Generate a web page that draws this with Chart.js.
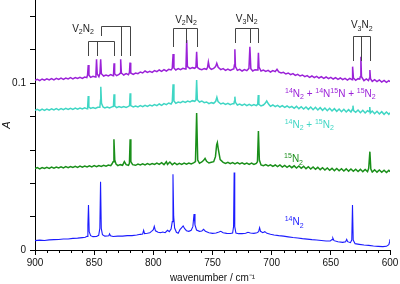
<!DOCTYPE html>
<html><head><meta charset="utf-8">
<script src="https://cdn.jsdelivr.net/npm/chart.js@4/dist/chart.umd.min.js"></script>
<style>html,body{margin:0;padding:0;background:#fff;overflow:hidden}</style>
</head><body>
<canvas id="c" width="400" height="284"></canvas>
<script>
// ---- data: [wavenumber (cm-1), absorbance A] ----
const n14N2 = [[900,0.0056],[896,0.0059],[892,0.0057],[888,0.0061],[884,0.0062],[880,0.0063],[876,0.0066],[872,0.0066],[868,0.0070],[864,0.0071],[860,0.0074],[857.5,0.0076],[856,0.0082],[855.3,0.0150],[854.8,0.0270],[854.2,0.0110],[853,0.0086],[851,0.0080],[848,0.0081],[846.2,0.0088],[845.2,0.0130],[844.6,0.0410],[844,0.0130],[843,0.0092],[841,0.0083],[839,0.0084],[837.6,0.0086],[837,0.0097],[836.2,0.0085],[834,0.0081],[830,0.0083],[826,0.0083],[822,0.0086],[818,0.0086],[814,0.0090],[811,0.0094],[809,0.0096],[808.2,0.0118],[807.4,0.0098],[805,0.0100],[803,0.0104],[801.5,0.0112],[800,0.0122],[799.2,0.0142],[798.2,0.0115],[796,0.0106],[794,0.0104],[792,0.0108],[790,0.0104],[788,0.0118],[786.5,0.0110],[785,0.0126],[784,0.0170],[783.4,0.0455],[782.8,0.0200],[782,0.0132],[780.5,0.0106],[779,0.0100],[777.5,0.0122],[776,0.0134],[774.8,0.0144],[773.5,0.0128],[772,0.0116],[770,0.0112],[768,0.0118],[766.6,0.0140],[765.6,0.0216],[764.8,0.0150],[763.5,0.0120],[761,0.0112],[759,0.0114],[757.5,0.0124],[756,0.0112],[753,0.0104],[750,0.0100],[747,0.0102],[744.5,0.0108],[743,0.0112],[741,0.0104],[738,0.0100],[735,0.0099],[733,0.0102],[732.2,0.0140],[731.7,0.0465],[731.2,0.0140],[730.2,0.0102],[728,0.0098],[725,0.0098],[722,0.0100],[720,0.0106],[718,0.0102],[715,0.0100],[712.5,0.0104],[711,0.0110],[710.2,0.0134],[709.4,0.0112],[707.5,0.0104],[705.8,0.0110],[704,0.0100],[701,0.0094],[698,0.0090],[694,0.0086],[690,0.0083],[686,0.0079],[682,0.0075],[678,0.0072],[674,0.0068],[670,0.0065],[666,0.0062],[662,0.0060],[658,0.0057],[654,0.0054],[650.5,0.0054],[649,0.0062],[648.3,0.0072],[647.3,0.0056],[644,0.0049],[640,0.0046],[637.5,0.0050],[636.6,0.0064],[635.8,0.0050],[633.5,0.0044],[632.3,0.0060],[631.7,0.0270],[631.1,0.0060],[629.5,0.0038],[626,0.0034],[622,0.0030],[618,0.0028],[614,0.0024],[610,0.0022],[606,0.0020],[603,0.0022],[601,0.0032],[600.3,0.0050],[600,0.0064]];

const n15N2 = [[900,0.0488],[898,0.0494],[896,0.0487],[894,0.0495],[892,0.0489],[890,0.0496],[888,0.0490],[886,0.0497],[884,0.0491],[882,0.0498],[880,0.0492],[878,0.0499],[876,0.0493],[874,0.0500],[872,0.0494],[870,0.0501],[868,0.0495],[866,0.0502],[864,0.0496],[862,0.0503],[860,0.0497],[858,0.0504],[856,0.0498],[854,0.0505],[852,0.0499],[850,0.0506],[848,0.0500],[846,0.0507],[844,0.0502],[842,0.0508],[840,0.0503],[838,0.0510],[836,0.0506],[835,0.0516],[834,0.0530],[833.3,0.0664],[832.6,0.0540],[831.5,0.0515],[830,0.0506],[828,0.0512],[826,0.0508],[824.5,0.0530],[823,0.0512],[821,0.0508],[820.2,0.0520],[819.6,0.0664],[819,0.0530],[817.5,0.0512],[815,0.0508],[813,0.0515],[811,0.0510],[809,0.0517],[807,0.0511],[805,0.0518],[803,0.0512],[801,0.0519],[799,0.0513],[797,0.0522],[795,0.0514],[793,0.0524],[791,0.0512],[789,0.0530],[788,0.0514],[786,0.0528],[784,0.0512],[782,0.0522],[780,0.0512],[778,0.0520],[776,0.0514],[774,0.0521],[772,0.0515],[770,0.0522],[768,0.0516],[766,0.0523],[764.4,0.0530],[763.4,0.0822],[762.5,0.0540],[761,0.0520],[759,0.0528],[757.5,0.0538],[756.3,0.0550],[755,0.0532],[753,0.0522],[751,0.0526],[749,0.0530],[747.5,0.0560],[746.5,0.0630],[745.9,0.0644],[745,0.0600],[743.5,0.0542],[741,0.0526],[739,0.0520],[737,0.0526],[735,0.0518],[733,0.0525],[731,0.0517],[729,0.0524],[727,0.0516],[725,0.0523],[723,0.0515],[721,0.0522],[719,0.0514],[717,0.0521],[715,0.0513],[713,0.0520],[712,0.0530],[711.2,0.0714],[710.4,0.0540],[709,0.0510],[707,0.0506],[705,0.0512],[703,0.0504],[701,0.0511],[699,0.0502],[697,0.0510],[695,0.0500],[693,0.0510],[691,0.0498],[689,0.0508],[687,0.0496],[685,0.0506],[683,0.0494],[681,0.0505],[679,0.0492],[677,0.0504],[675,0.0490],[673,0.0502],[671,0.0488],[669,0.0500],[667,0.0486],[665,0.0498],[663,0.0484],[661,0.0496],[659,0.0482],[657,0.0494],[655,0.0480],[653,0.0492],[651,0.0478],[649,0.0490],[647,0.0476],[645,0.0489],[643,0.0475],[641,0.0488],[639,0.0474],[637,0.0487],[635,0.0473],[633,0.0486],[631,0.0472],[629,0.0485],[627,0.0471],[625,0.0484],[623,0.0470],[621,0.0483],[619,0.0470],[618,0.0490],[617,0.0590],[616.2,0.0486],[615,0.0468],[613,0.0481],[611,0.0467],[609,0.0480],[607,0.0466],[605,0.0479],[603,0.0465],[601,0.0478],[600,0.0470]];

const nMix2 = [[900,0.0838],[898,0.0844],[896,0.0836],[894,0.0845],[892,0.0838],[890,0.0846],[888,0.0839],[886,0.0847],[884,0.0840],[882,0.0848],[880,0.0841],[878,0.0849],[876,0.0842],[874,0.0850],[872,0.0843],[870,0.0850],[868,0.0844],[866,0.0851],[864,0.0845],[862,0.0852],[860,0.0846],[858,0.0853],[856,0.0847],[855.5,0.0860],[855,0.0924],[854.5,0.0858],[853,0.0850],[851,0.0855],[849,0.0849],[847,0.0856],[845.2,0.0856],[844.6,0.0900],[844.4,0.0980],[843.8,0.0880],[842.5,0.0858],[841,0.0852],[839,0.0858],[837,0.0852],[835,0.0859],[833.7,0.0862],[833.2,0.0934],[832.6,0.0864],[831,0.0854],[829,0.0860],[827,0.0855],[825,0.0861],[823,0.0856],[821,0.0862],[820.1,0.0866],[819.6,0.0940],[819.1,0.0866],[817,0.0858],[815,0.0864],[813,0.0859],[811,0.0866],[809,0.0860],[807,0.0868],[805,0.0862],[803,0.0870],[801,0.0864],[799,0.0872],[797,0.0866],[795,0.0876],[793,0.0868],[791,0.0878],[789,0.0872],[787,0.0882],[785,0.0876],[784,0.0888],[783.3,0.0994],[782.6,0.0894],[781,0.0880],[779,0.0888],[777,0.0884],[775,0.0892],[773,0.0886],[771,0.0894],[769,0.0888],[767,0.0896],[765,0.0892],[764,0.0900],[763.4,0.1020],[762.8,0.0902],[761,0.0888],[759,0.0894],[757,0.0884],[755,0.0888],[753,0.0878],[751,0.0884],[749,0.0880],[747.3,0.0892],[746.3,0.0916],[745.3,0.0890],[743,0.0876],[741,0.0882],[739,0.0874],[737,0.0880],[735,0.0872],[733,0.0878],[731.9,0.0878],[731.5,0.0892],[731.1,0.0920],[730.6,0.0886],[729,0.0870],[727,0.0876],[725,0.0868],[723,0.0875],[721,0.0866],[719,0.0874],[717,0.0866],[715,0.0872],[713,0.0866],[711.8,0.0874],[711.3,0.0930],[710.8,0.0874],[709,0.0864],[707,0.0870],[705.5,0.0880],[704.2,0.0894],[702.5,0.0874],[701,0.0862],[699,0.0870],[697,0.0860],[695,0.0868],[693,0.0858],[691,0.0866],[689,0.0856],[687,0.0864],[685,0.0854],[683,0.0862],[681,0.0850],[679,0.0862],[677,0.0848],[675,0.0860],[673,0.0846],[671,0.0858],[669,0.0844],[667,0.0858],[665,0.0842],[663,0.0856],[661,0.0840],[659,0.0854],[657,0.0838],[655,0.0852],[653,0.0836],[651,0.0850],[649,0.0834],[647,0.0848],[645,0.0832],[643,0.0846],[641,0.0830],[639,0.0844],[637,0.0828],[635,0.0842],[633,0.0828],[631.8,0.0844],[631.3,0.0866],[630.8,0.0836],[629,0.0826],[627,0.0840],[625,0.0824],[623,0.0838],[621,0.0822],[619,0.0836],[617.6,0.0830],[617.1,0.0858],[616.6,0.0822],[615,0.0834],[613,0.0818],[611,0.0832],[609,0.0816],[607,0.0830],[605,0.0814],[603,0.0828],[601,0.0814],[600,0.0824]];

const nMix3 = [[900,0.1018],[898,0.1024],[896,0.1016],[894,0.1026],[892,0.1019],[890,0.1027],[888,0.1020],[886,0.1029],[884,0.1021],[882,0.1030],[880,0.1023],[878,0.1031],[876,0.1024],[874,0.1032],[872,0.1026],[870,0.1034],[868,0.1027],[866,0.1035],[864,0.1029],[862,0.1036],[860,0.1030],[858,0.1038],[856.2,0.1034],[855.6,0.1050],[855,0.1110],[854.4,0.1048],[853,0.1036],[851,0.1042],[849,0.1038],[848.5,0.1060],[848,0.1144],[847.4,0.1056],[846,0.1040],[845.1,0.1060],[844.5,0.1144],[843.9,0.1058],[842,0.1044],[840,0.1050],[838,0.1044],[836,0.1052],[834,0.1046],[833.6,0.1060],[833.2,0.1120],[832.7,0.1058],[831,0.1046],[829,0.1054],[828.1,0.1060],[827.6,0.1144],[827.0,0.1062],[825,0.1050],[823,0.1058],[821,0.1052],[820.2,0.1064],[819.7,0.1124],[819.1,0.1062],[817,0.1054],[815,0.1062],[813,0.1058],[811,0.1068],[809,0.1062],[807,0.1074],[805,0.1066],[803,0.1072],[801,0.1066],[799,0.1076],[797,0.1070],[795,0.1080],[793,0.1072],[791,0.1082],[789,0.1074],[787,0.1084],[785,0.1080],[784,0.1090],[783.3,0.1176],[782.6,0.1092],[781,0.1080],[779,0.1088],[777,0.1082],[775,0.1090],[773,0.1086],[772.4,0.1100],[771.8,0.1260],[771.2,0.1100],[769,0.1088],[767,0.1094],[765,0.1090],[764,0.1098],[763.4,0.1190],[762.8,0.1096],[761,0.1086],[759,0.1082],[757,0.1088],[755,0.1084],[754.2,0.1096],[753.5,0.1128],[752.6,0.1094],[751,0.1084],[749,0.1090],[747.4,0.1100],[746.4,0.1120],[745.2,0.1096],[743,0.1082],[741,0.1088],[739,0.1078],[737,0.1086],[735,0.1078],[733,0.1084],[732,0.1086],[731.5,0.1110],[731.1,0.1204],[730.6,0.1100],[729,0.1078],[727,0.1084],[725,0.1074],[723,0.1082],[721,0.1076],[719.2,0.1090],[718.4,0.1220],[717.6,0.1088],[716,0.1074],[714,0.1082],[712,0.1080],[711.6,0.1100],[711.2,0.1184],[710.7,0.1098],[709,0.1074],[707,0.1080],[705,0.1072],[703,0.1078],[701,0.1068],[699,0.1076],[697,0.1070],[695.5,0.1084],[694,0.1068],[692,0.1062],[690,0.1066],[688,0.1056],[686,0.1062],[684,0.1052],[682,0.1058],[680,0.1048],[678,0.1054],[676,0.1044],[674,0.1050],[672,0.1040],[670,0.1046],[668,0.1036],[666,0.1044],[664,0.1034],[662,0.1042],[660,0.1032],[658,0.1040],[656,0.1030],[654,0.1038],[652,0.1028],[650,0.1036],[648,0.1026],[646,0.1034],[644,0.1024],[642,0.1032],[640,0.1022],[638,0.1030],[636,0.1020],[634,0.1030],[632,0.1022],[631.8,0.1036],[631.4,0.1100],[630.9,0.1032],[629,0.1018],[627,0.1028],[625.6,0.1026],[625.1,0.1040],[624.6,0.1160],[624.1,0.1040],[622,0.1016],[620,0.1026],[618.2,0.1016],[617.4,0.1030],[617,0.1080],[616.5,0.1028],[615,0.1012],[613,0.1022],[611,0.1010],[609,0.1020],[607,0.1008],[605,0.1018],[603,0.1006],[601,0.1016],[600,0.1010]];

// series names / labels (^ = superscript, _ = subscript)
const seriesNames = ['14N2', '15N2', '14N2 + 15N2', '14N2 + 14N15N + 15N2'];
const seriesLabels = ['^14N_2', '^15N_2', '^14N_2 + ^15N_2', '^14N_2 + ^14N^15N + ^15N_2'];
const seriesColors = ['#1c1cff', '#1a8f1a', '#3fd6c4', '#9b22d8'];
const seriesWidths = [1.1, 1.5, 1.5, 1.5];
// label anchor (wavenumber of left edge, A at baseline)
const labelWn = [689, 689.5, 689, 688.7];
const labelA = [0.0150, 0.0528, 0.0734, 0.0920];

// band assignment brackets: peak wavenumbers, bracket top A, line bottoms A
const bracketWn = [[855, 848, 833], [844.5, 827.6, 819.7], [783.3, 772.4, 763.4], [731.1, 718.3, 711.2], [631.4, 624.5, 616.8]];
const bracketTop = [0.1254, 0.1344, 0.1334, 0.1334, 0.1284];
const bracketBottom = [[0.1166, 0.1166, 0.1166], [0.1284, 0.1166, 0.1166], [0.1220, 0.1240, 0.1220], [0.1240, 0.1240, 0.1240], [0.1136, 0.1136, 0.1136]];
const bracketLabels = ['V_2N_2', null, 'V_2N_2', 'V_3N_2', 'V_3N_2'];
const bracketLabelWn = [859.4, null, 772.4, 721.1, 623.9];
const bracketLabelA = [0.1310, null, 0.1364, 0.1370, 0.1332];

const FONT = "'Liberation Sans', Arial, Helvetica, sans-serif";

function drawRich(ctx, text, x, y, size, color) {
  const parts = text.match(/(\^\d+|_\d+|[^\^_]+)/g);
  ctx.fillStyle = color;
  ctx.textBaseline = 'alphabetic';
  ctx.textAlign = 'left';
  let cx = x;
  const small = Math.round(size * 0.72);
  for (const p of parts) {
    let t = p, dy = 0, fs = size;
    if (p[0] === '^') { t = p.slice(1); fs = small; dy = -size * 0.38; }
    else if (p[0] === '_') { t = p.slice(1); fs = small; dy = size * 0.28; }
    ctx.font = fs + 'px ' + FONT;
    ctx.fillText(t, cx, y + dy);
    cx += ctx.measureText(t).width;
  }
}
function richWidth(ctx, text, size) {
  const parts = text.match(/(\^\d+|_\d+|[^\^_]+)/g);
  const small = Math.round(size * 0.72);
  let w = 0;
  for (const p of parts) {
    let t = p, fs = size;
    if (p[0] === '^' || p[0] === '_') { t = p.slice(1); fs = small; }
    ctx.font = fs + 'px ' + FONT;
    w += ctx.measureText(t).width;
  }
  return w;
}

const annot = {
  id: 'annot',
  afterDatasetsDraw(chart) {
    const ctx = chart.ctx, xs = chart.scales.x, ys = chart.scales.y;
    ctx.save();
    // minor x ticks
    ctx.strokeStyle = '#000'; ctx.lineWidth = 1;
    for (let v = 600; v <= 900; v += 10) {
      if (v % 50 === 0) continue;
      const px = Math.round(xs.getPixelForValue(v)) + 0.5;
      ctx.beginPath(); ctx.moveTo(px, ys.bottom); ctx.lineTo(px, ys.bottom + 3); ctx.stroke();
    }
    // brackets
    ctx.strokeStyle = '#444';
    bracketWn.forEach((wns, i) => {
      const top = Math.round(ys.getPixelForValue(bracketTop[i])) + 0.5;
      const xsP = wns.map(w => Math.round(xs.getPixelForValue(w)) + 0.5);
      ctx.beginPath();
      ctx.moveTo(xsP[0], top); ctx.lineTo(xsP[xsP.length - 1], top);
      xsP.forEach((px, j) => {
        ctx.moveTo(px, top);
        ctx.lineTo(px, Math.round(ys.getPixelForValue(bracketBottom[i][j])));
      });
      ctx.stroke();
      if (bracketLabels[i]) {
        const w = richWidth(ctx, bracketLabels[i], 10);
        drawRich(ctx, bracketLabels[i], xs.getPixelForValue(bracketLabelWn[i]) - w / 2,
          ys.getPixelForValue(bracketLabelA[i]), 10, '#222');
      }
    });
    // series labels
    seriesLabels.forEach((t, i) => {
      drawRich(ctx, t, xs.getPixelForValue(labelWn[i]), ys.getPixelForValue(labelA[i]), 10, seriesColors[i]);
    });
    ctx.restore();
  }
};

const allSeries = [n14N2, n15N2, nMix2, nMix3];
new Chart(document.getElementById('c'), {
  type: 'line',
  data: {
    datasets: allSeries.map((s, i) => ({
      label: seriesNames[i],
      data: s.map(p => ({ x: p[0], y: p[1] })),
      borderColor: seriesColors[i],
      borderWidth: seriesWidths[i],
      pointRadius: 0,
      fill: false,
      tension: 0
    }))
  },
  options: {
    responsive: false,
    animation: false,
    layout: { padding: { left: 0, right: 10, top: 0, bottom: 0 } },
    plugins: { legend: { display: false }, tooltip: { enabled: false } },
    scales: {
      x: {
        type: 'linear', reverse: true, min: 600, max: 900,
        afterFit: s => { s.height = 34; s.paddingLeft = 0; s.paddingRight = 0; },
        border: { display: true, color: '#000', width: 1 },
        grid: {
          drawOnChartArea: false, drawTicks: true, tickLength: 5,
          tickColor: c => (c.tick && c.tick.value % 50 === 0) ? '#000' : 'rgba(0,0,0,0)'
        },
        ticks: {
          stepSize: 10, autoSkip: false, maxRotation: 0, padding: 2, color: '#111',
          font: { family: FONT, size: 10 },
          callback: v => (v % 50 === 0 ? String(v) : '')
        },
        title: { display: true, text: 'wavenumber / cm⁻¹', color: '#111',
          font: { family: FONT, size: 10 }, padding: { top: 0, bottom: 0 } }
      },
      y: {
        type: 'linear', min: 0, max: 0.15,
        afterFit: s => { s.width = 35; s.paddingTop = 0; s.paddingBottom = 0; },
        border: { display: true, color: '#000', width: 1 },
        grid: { drawOnChartArea: false, drawTicks: true, tickLength: 5, tickColor: '#000' },
        ticks: {
          stepSize: 0.02, includeBounds: false, padding: 4, color: '#111',
          font: { family: FONT, size: 10 },
          callback: v => (Math.abs(v) < 1e-9 ? '0' : (Math.abs(v - 0.1) < 1e-9 ? '0.1' : ''))
        },
        title: { display: true, text: 'A', color: '#111',
          font: { family: FONT, size: 11, style: 'italic' }, padding: { top: 0, bottom: 0 } }
      }
    }
  },
  plugins: [annot]
});
</script>
</body></html>
